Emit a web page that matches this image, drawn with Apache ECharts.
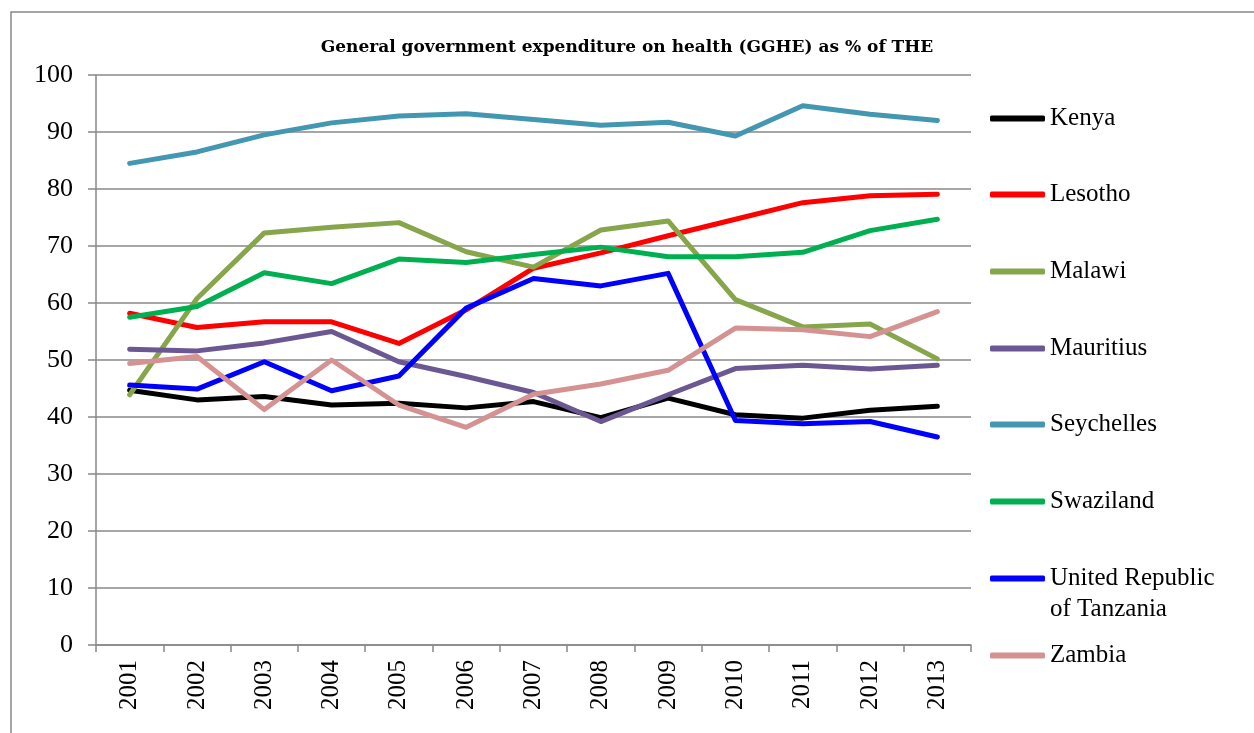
<!DOCTYPE html>
<html><head><meta charset="utf-8">
<script src="https://cdn.jsdelivr.net/npm/echarts@6/dist/echarts.min.js"></script>
<style>html,body{margin:0;padding:0;background:#fff}#c{width:1254px;height:733px}</style>
</head><body><div id="c"></div>
<script>
const years = ['2001','2002','2003','2004','2005','2006','2007','2008','2009','2010','2011','2012','2013'];
const kenya      = [44.7,43.0,43.6,42.1,42.4,41.6,42.7,39.9,43.3,40.4,39.8,41.2,41.9];
const lesotho    = [58.2,55.7,56.7,56.7,52.9,58.8,66.1,68.8,71.8,74.7,77.6,78.8,79.1];
const malawi     = [43.9,60.8,72.3,73.3,74.1,69.0,66.3,72.8,74.4,60.6,55.8,56.3,50.2];
const mauritius  = [51.9,51.6,53.0,55.0,49.7,47.1,44.3,39.2,43.9,48.5,49.1,48.4,49.1];
const seychelles = [84.5,86.5,89.5,91.6,92.8,93.2,92.2,91.2,91.7,89.3,94.6,93.1,92.0];
const swaziland  = [57.5,59.4,65.3,63.4,67.7,67.1,68.5,69.8,68.1,68.1,68.9,72.7,74.7];
const tanzania   = [45.6,44.9,49.7,44.6,47.2,59.1,64.3,63.0,65.2,39.4,38.8,39.2,36.5];
const zambia     = [49.4,50.6,41.3,50.0,42.1,38.2,44.0,45.8,48.2,55.6,55.3,54.1,58.5];
const yTicks = [0,10,20,30,40,50,60,70,80,90,100];

const names = ['Kenya','Lesotho','Malawi','Mauritius','Seychelles','Swaziland','United Republic of Tanzania','Zambia'];
const datas = [kenya,lesotho,malawi,mauritius,seychelles,swaziland,tanzania,zambia];
const colors = ['#000000','#ff0000','#87a54b','#6b5892','#4397b0','#00b050','#0000ff','#d49392'];
const legendTops = [117,193,270,347,423,500,577,654];

const FONT = 'Liberation Serif';
const series = names.map((n,i)=>({
  name:n, type:'line', data:datas[i], symbol:'none', smooth:false,
  lineStyle:{color:colors[i], width:5, cap:'round', join:'round'},
  itemStyle:{color:colors[i]}, z: 2+i
}));

const legends = names.map((n,i)=>{
  const isTz = n==='United Republic of Tanzania';
  const l = {
    data:[n], left:990, top: legendTops[i] - (isTz ? 45 : 14), orient:'vertical', padding:0,
    icon:'roundRect', itemWidth:55, itemHeight:6, itemGap:0,
    selectedMode:false,
    textStyle:{fontFamily:FONT, fontSize:25, color:'#000', lineHeight:31}
  };
  if (isTz) l.formatter = ()=> ' \nUnited Republic\nof Tanzania';
  return l;
});

const chart = echarts.init(document.getElementById('c'));
chart.setOption({
  animation:false,
  backgroundColor:'#fff',
  title:{text:'General government expenditure on health (GGHE) as % of THE', left:'center', top:34,
    textStyle:{fontFamily:'DejaVu Serif', fontWeight:'bold', fontSize:17, color:'#000'}},
  graphic:[{type:'rect', shape:{x:11,y:12,width:1400,height:900}, style:{fill:'none', stroke:'#888', lineWidth:1.5}, silent:true}],
  legend: legends,
  grid:{left:96, right:283, top:75, bottom:88, containLabel:false},
  xAxis:{type:'category', data:years, boundaryGap:true,
    axisLine:{lineStyle:{color:'#888', width:1.5}},
    axisTick:{show:true, alignWithLabel:false, length:7, lineStyle:{color:'#888', width:1.5}},
    axisLabel:{rotate:90, fontFamily:FONT, fontSize:25, color:'#000', margin:15, interval:0}},
  yAxis:{type:'value', min:0, max:100, interval:10,
    axisLine:{show:true, lineStyle:{color:'#888', width:1.5}},
    axisTick:{show:true, length:8, lineStyle:{color:'#888', width:1.5}},
    splitLine:{lineStyle:{color:'#888', width:1.5}},
    axisLabel:{fontFamily:FONT, fontSize:26, color:'#000', margin:23,
      formatter:(v)=> yTicks.includes(v) ? String(v) : ''}},
  series: series
});
</script></body></html>
